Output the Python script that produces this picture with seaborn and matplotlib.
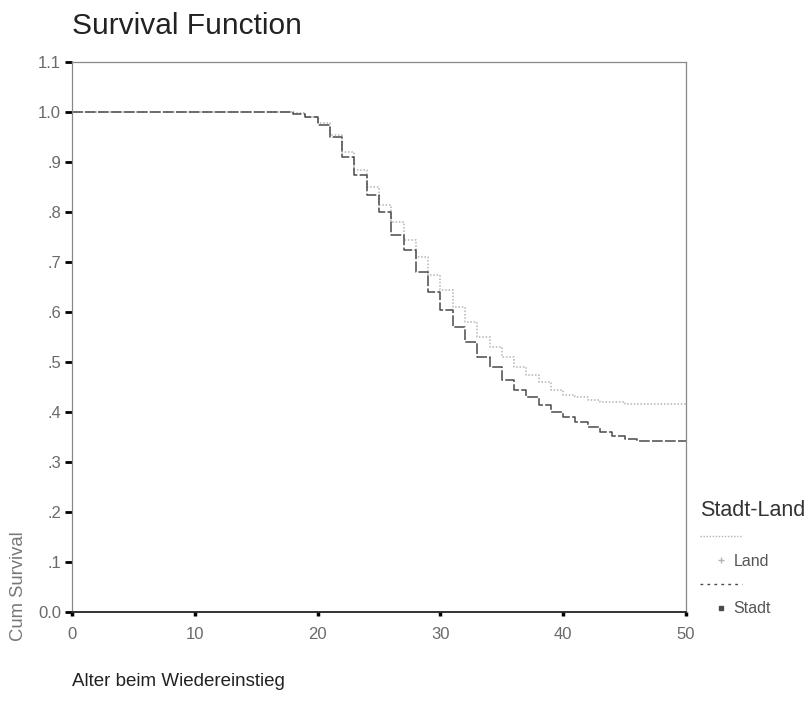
import matplotlib
matplotlib.use("Agg")
import matplotlib.pyplot as plt
from matplotlib.lines import Line2D
import seaborn as sns
import pandas as pd

# Kaplan-Meier estimates (cumulative survival) by age at re-entry
ages = [0, 17, 18, 19, 20, 21, 22, 23, 24, 25, 26, 27, 28, 29, 30, 31, 32,
        33, 34, 35, 36, 37, 38, 39, 40, 41, 42, 43, 44, 45, 46, 50]
surv_land = [1.0, 1.0, 0.998, 0.99, 0.978, 0.955, 0.92, 0.885, 0.85, 0.815,
             0.78, 0.745, 0.71, 0.675, 0.645, 0.61, 0.58, 0.55, 0.53, 0.51,
             0.49, 0.475, 0.46, 0.445, 0.435, 0.43, 0.425, 0.42, 0.42, 0.416,
             0.416, 0.416]
surv_stadt = [1.0, 1.0, 0.997, 0.99, 0.975, 0.95, 0.91, 0.875, 0.835, 0.80,
              0.755, 0.725, 0.68, 0.64, 0.605, 0.57, 0.54, 0.51, 0.49, 0.465,
              0.445, 0.43, 0.415, 0.40, 0.39, 0.38, 0.37, 0.36, 0.352, 0.347,
              0.343, 0.342]
groups = ["Land", "Stadt"]
x_ticks = [0, 10, 20, 30, 40, 50]
y_ticks = [0.0, 0.1, 0.2, 0.3, 0.4, 0.5, 0.6, 0.7, 0.8, 0.9, 1.0, 1.1]
y_tick_labels = ["0.0", ".1", ".2", ".3", ".4", ".5", ".6", ".7", ".8", ".9",
                 "1.0", "1.1"]

df = pd.concat([
    pd.DataFrame({"Alter": ages, "Survival": surv_land, "Gruppe": "Land"}),
    pd.DataFrame({"Alter": ages, "Survival": surv_stadt, "Gruppe": "Stadt"}),
])

sns.set_style("white")
plt.rcParams["font.family"] = ["Liberation Sans", "DejaVu Sans"]

colors = {"Land": "#b4b4b4", "Stadt": "#4a4a4a"}
dashes = {"Land": (1, 1.2), "Stadt": (7, 1.5)}

fig = plt.figure(figsize=(8.09, 7.15), dpi=100)
ax = fig.add_axes([72 / 809, 1 - 612 / 715, 614 / 809, 550 / 715])

sns.lineplot(data=df, x="Alter", y="Survival", hue="Gruppe", style="Gruppe",
             hue_order=groups, style_order=groups, palette=colors,
             dashes=dashes, drawstyle="steps-post", linewidth=1.1,
             legend=False, ax=ax)

ax.set_xlim(0, 50)
ax.set_ylim(0, 1.1)
ax.set_xticks(x_ticks)
ax.set_xticklabels([str(t) for t in x_ticks])
ax.set_yticks(y_ticks)
ax.set_yticklabels(y_tick_labels)
ax.set_xlabel("")
ax.set_ylabel("")
ax.tick_params(axis="both", bottom=True, left=True, direction="out",
               color="black", labelsize=12, labelcolor="#6a6a6a")
ax.tick_params(axis="y", length=5, width=2, pad=3)
ax.tick_params(axis="x", length=3, width=2.5, pad=8)
for side, sp in ax.spines.items():
    sp.set_visible(True)
    sp.set_color("#888888")
    sp.set_linewidth(0.9)
ax.spines["bottom"].set_color("#222222")
ax.spines["bottom"].set_linewidth(1.3)

fig.text(72 / 809, 1 - 26 / 715, "Survival Function", fontsize=21.5,
         color="#222222", ha="left", va="center")
fig.text(72 / 809, 1 - 682 / 715, "Alter beim Wiedereinstieg", fontsize=13.5,
         color="#222222", ha="left", va="center")
fig.text(19 / 809, 1 - 641 / 715, "Cum Survival", fontsize=13.3,
         color="#777777", rotation=90, ha="center", va="bottom")

handles = [
    Line2D([], [], color=colors["Land"], linestyle=(0, dashes["Land"]),
           linewidth=1),
    Line2D([], [], color=colors["Land"], marker="+", linestyle="none",
           markersize=4),
    Line2D([], [], color=colors["Stadt"], linestyle=(0, (2, 3)),
           linewidth=1),
    Line2D([], [], color=colors["Stadt"], marker="s", linestyle="none",
           markersize=2.5),
]
labels = ["", "Land", "", "Stadt"]
leg = fig.legend(handles, labels, title="Stadt-Land", loc="upper left",
                 bbox_to_anchor=(700 / 809, 1 - 500 / 715), frameon=False,
                 fontsize=11.5, title_fontsize=15.5, handlelength=2.6,
                 labelspacing=0.55, handletextpad=-0.5, borderaxespad=0,
                 borderpad=0)
leg.get_title().set_color("#333333")
leg._legend_box.align = "left"
for t in leg.get_texts():
    t.set_color("#555555")

fig.savefig("out.png", dpi=100, facecolor="white")
